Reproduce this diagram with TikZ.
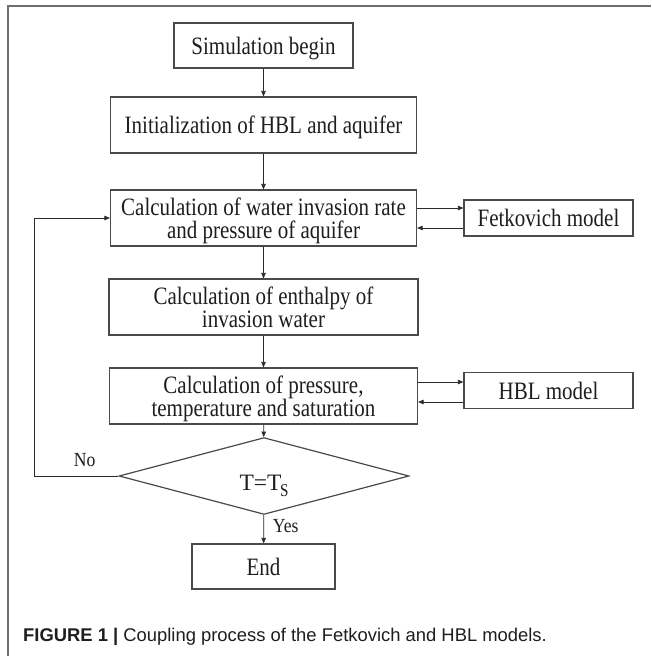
\documentclass[tikz,border=0pt]{standalone}
\usepackage{fontspec}
\setmainfont{Liberation Serif}[FakeStretch=0.84]
\newfontfamily\lblfont{Liberation Serif}[FakeStretch=0.88]
\newfontfamily\plainserif{Liberation Serif}
\newfontfamily\capfont{Liberation Sans}
\usetikzlibrary{shapes.geometric,arrows.meta}
\definecolor{boxc}{HTML}{4A4A4A}
\definecolor{framec}{HTML}{6E6E6E}
\definecolor{txt}{HTML}{1E1E1E}
\definecolor{linec}{HTML}{2A2A2A}
\newcommand\mainsz{\fontsize{25}{23.5}\selectfont}
\newcommand\smallsz{\lblfont\fontsize{20}{22}\selectfont}
\begin{document}
\begin{tikzpicture}[x=1pt,y=-1pt,
  box/.style={draw=boxc, line width=1.2pt, fill=white, inner sep=0pt, align=center, font=\mainsz, text=txt, text depth=0pt},
  arr/.style={-{Triangle[length=5.5pt,width=4.5pt]}, line width=0.8pt, draw=linec},
  lbl/.style={font=\smallsz, text=txt, inner sep=0pt, anchor=base}]
\useasboundingbox (0,0) rectangle (651,656);
\fill[white] (0,0) rectangle (651,656);
% frame
\coordinate (fbl) at (8,656);
\coordinate (ftl) at (8,6);
\coordinate (ftr) at (651,6);
\draw[framec, line width=1.3pt] (fbl) -- (ftl) -- (ftr);
% nodes
\node[box, minimum width=179pt, minimum height=45pt] (sim) at (263.5,45.5) {Simulation begin};
\node[box, minimum width=306pt, minimum height=56pt] (init) at (263.5,125) {Initialization of HBL and aquifer};
\node[box, minimum width=306pt, minimum height=56pt] (wat) at (263.5,218) {Calculation of water invasion rate\\and pressure of aquifer};
\node[box, minimum width=169pt, minimum height=36pt] (fet) at (548.5,218) {Fetkovich model};
\node[box, minimum width=309pt, minimum height=56pt] (ent) at (263.5,307) {Calculation of enthalpy of\\invasion water};
\node[box, minimum width=308pt, minimum height=56pt] (pr) at (263.5,396) {Calculation of pressure,\\temperature and saturation};
\node[box, minimum width=169pt, minimum height=36pt] (hbl) at (548.5,390.5) {HBL model};
\node[box, diamond, minimum width=290pt, minimum height=74pt, text height=28pt, font=\plainserif\fontsize{23.5}{25}\selectfont] (dec) at (264,476) {T=T\kern-1.5pt\raisebox{-6.5pt}{\rmfamily\fontsize{18}{18}\selectfont S}};
\node[box, minimum width=143pt, minimum height=45pt] (end) at (263.5,566.5) {End};
\node[lbl] (no) at (84.7,466) {No};
\node[lbl] (yes) at (285.7,532.3) {Yes};
\node[anchor=base west, inner sep=0pt, text=txt] (cap) at (23,641.5) {\capfont\fontsize{18.4}{20}\selectfont\textbf{FIGURE 1 |} Coupling process of the Fetkovich and HBL models.};
% arrows
\draw[arr] (sim) -- (init);
\draw[arr] (init) -- (wat);
\draw[arr] (wat) -- (ent);
\draw[arr] (ent) -- (pr);
\draw[arr] (pr) -- (dec);
\draw[arr] (dec) -- (end);
\draw[arr] ([yshift=10pt]wat.east) -- ([yshift=10pt]wat.east -| fet.west);
\draw[arr] ([yshift=-10pt]fet.west) -- ([yshift=-10pt]fet.west -| wat.east);
\draw[arr] ([yshift=14pt]pr.east) -- ([yshift=14pt]pr.east -| hbl.west);
\draw[arr] ([yshift=-6pt]pr.east -| hbl.west) -- ([yshift=-6pt]pr.east);
\coordinate (lpb) at (34,476);
\coordinate (lpt) at (34,218);
\draw[arr] (dec.west) -- (lpb) -- (lpt) -- (wat.west);
\end{tikzpicture}
\end{document}
